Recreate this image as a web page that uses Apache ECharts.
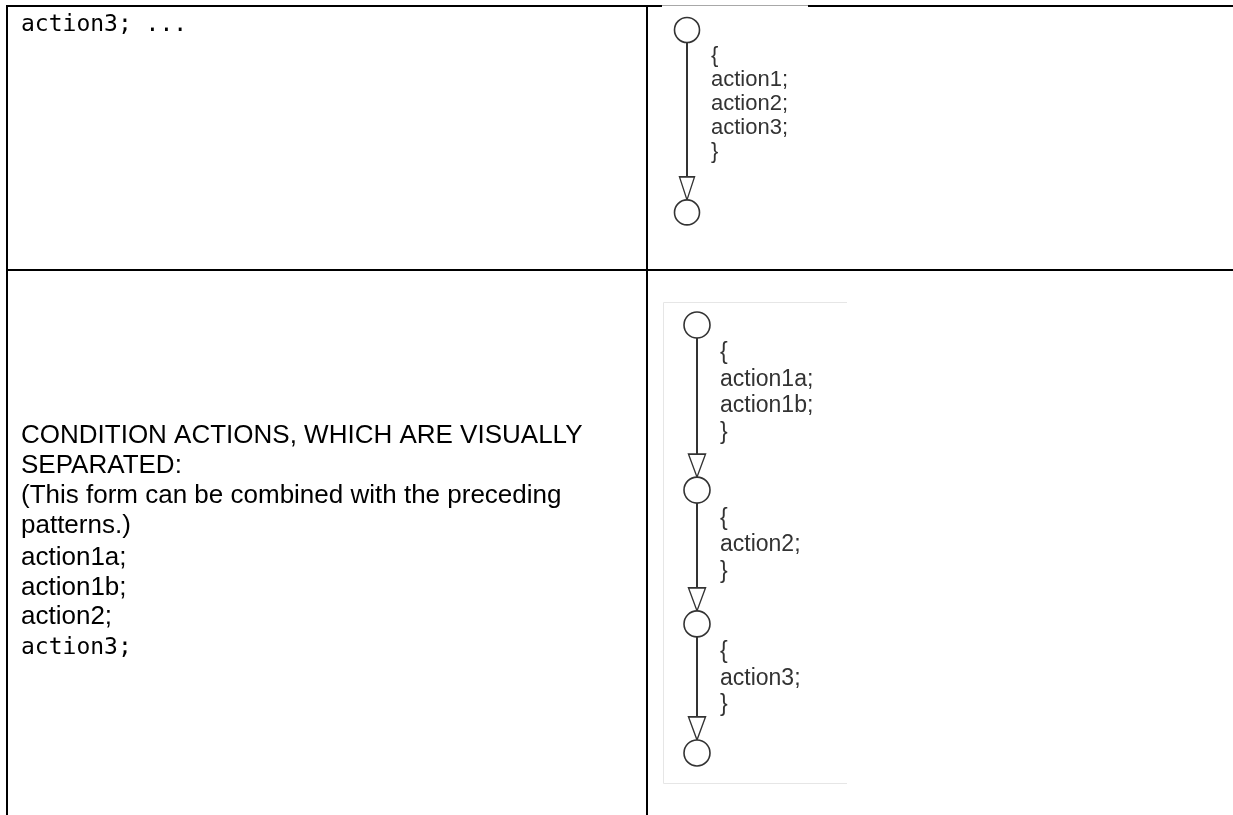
<!DOCTYPE html>
<html><head><meta charset="utf-8">
<script src="https://cdn.jsdelivr.net/npm/echarts@6/dist/echarts.min.js"></script>
<style>html,body{margin:0;padding:0;background:#fff}#c{width:1233px;height:815px}</style>
</head><body><div id="c"></div>
<script>
// ---- content ----
const topLeftLines = ['action3; ...'];
const bottomLeftLines = [
  'CONDITION ACTIONS, WHICH ARE VISUALLY',
  'SEPARATED:',
  '(This form can be combined with the preceding',
  'patterns.)',
  'action1a;',
  'action1b;',
  'action2;',
  'action3;'
];
const bottomLeftMono = [false, false, false, false, false, false, false, true];

// state positions (in text-row units along each diagram's vertical axis)
const diagram1States = [0, 7.6];
const diagram1Blocks = [['{', 'action1;', 'action2;', 'action3;', '}']];
const diagram2States = [0, 6.23, 11.28, 16.15];
const diagram2Blocks = [
  ['{', 'action1a;', 'action1b;', '}'],
  ['{', 'action2;', '}'],
  ['{', 'action3;', '}']
];

// ---- layout helpers ----
const SANS = '"Liberation Sans", Arial, sans-serif';
const MONO = '"DejaVu Sans Mono", "Liberation Mono", monospace';

function diagramSeries(gi, states, blocks, cfg) {
  const r = cfg.radius / cfg.unit, ah = cfg.arrowH / cfg.unit;
  const stateData = states.map(s => [0, s]);
  const lineData = [], arrowData = [], textData = [];
  blocks.forEach((block, i) => {
    const a = states[i], b = states[i + 1];
    const tip = b - r, top = tip - ah;
    lineData.push({ coords: [[0, a], [0, top]] });
    arrowData.push([0, (tip + top) / 2]);
    block.forEach((t, k) => textData.push({ value: [1, a + cfg.textOffset + k], name: t }));
  });
  const common = { xAxisIndex: gi, yAxisIndex: gi, silent: true, animation: false };
  return [
    Object.assign({ type: 'lines', coordinateSystem: 'cartesian2d', data: lineData,
      lineStyle: { color: '#333', width: 2, opacity: 1 }, z: 1 }, common),
    Object.assign({ type: 'scatter', data: arrowData,
      symbol: 'path://M0,0L10,0L5,15Z', symbolSize: [cfg.arrowW, cfg.arrowH],
      itemStyle: { color: '#fff', borderColor: '#333', borderWidth: 1.5, opacity: 1 }, z: 3 }, common),
    Object.assign({ type: 'scatter', data: stateData, symbol: 'circle', symbolSize: cfg.radius * 2,
      itemStyle: { color: '#fff', borderColor: '#333', borderWidth: 1.6, opacity: 1 }, z: 3 }, common),
    Object.assign({ type: 'scatter', data: textData, symbolSize: 0,
      itemStyle: { opacity: 1 },
      label: { show: true, position: 'right', distance: 0, formatter: p => p.name, opacity: 1,
        color: '#333', fontSize: cfg.fontSize, fontFamily: SANS }, z: 4 }, common)
  ];
}

const cfg1 = { unit: 24, radius: 12.5, arrowW: 15, arrowH: 23, textOffset: 1.1, fontSize: 22 };
const cfg2 = { unit: 26.5, radius: 13, arrowW: 17, arrowH: 23, textOffset: 1.06, fontSize: 23 };

const chart = echarts.init(document.getElementById('c'), null, { renderer: 'canvas' });

const graphics = [];
function hline(x1, x2, y, w, c) { graphics.push({ type: 'line', shape: { x1, y1: y, x2, y2: y }, style: { stroke: c, lineWidth: w }, silent: true }); }
function vline(x, y1, y2, w, c) { graphics.push({ type: 'line', shape: { x1: x, y1, x2: x, y2 }, style: { stroke: c, lineWidth: w }, silent: true }); }
// table frame
vline(7, 5, 815, 2, '#000');
vline(647, 5, 815, 2, '#000');
hline(6, 662, 6, 2, '#000');
hline(662, 808, 5.5, 1, '#a8a8a8');
hline(808, 1233, 6, 2, '#000');
hline(6, 1233, 270, 2, '#000');
// faint frame of second diagram picture (left, top, bottom edges)
graphics.push({ type: 'polyline', shape: { points: [[847, 302.5], [663.5, 302.5], [663.5, 783.5], [847, 783.5]] },
  style: { fill: 'none', stroke: '#e6e6e6', lineWidth: 1 }, silent: true });

// left column text
topLeftLines.forEach((t, i) => graphics.push({ type: 'text', x: 21, y: 25 + i * 30,
  style: { text: t, fontSize: 23, fontFamily: MONO, fill: '#000', align: 'left', verticalAlign: 'middle' }, silent: true }));
bottomLeftLines.forEach((t, i) => {
  const mono = bottomLeftMono[i];
  const baseline = i < 4 ? 445 + 30 * i : 567 + 29.5 * (i - 4);
  graphics.push({ type: 'text', x: 21, y: baseline - (mono ? 7 : 9),
    style: { text: t, fontSize: mono ? 23 : 26, fontFamily: mono ? MONO : SANS, fill: '#000',
      align: 'left', verticalAlign: 'middle' }, silent: true });
});

const axisHidden = { show: false };
chart.setOption({
  backgroundColor: '#fff',
  animation: false,
  grid: [
    { left: 687, top: 30, width: 24, height: cfg1.unit * 8 },
    { left: 697, top: 325, width: 23, height: cfg2.unit * 17 }
  ],
  xAxis: [
    { type: 'value', gridIndex: 0, min: 0, max: 1, ...axisHidden },
    { type: 'value', gridIndex: 1, min: 0, max: 1, ...axisHidden }
  ],
  yAxis: [
    { type: 'value', gridIndex: 0, min: 0, max: 8, inverse: true, ...axisHidden },
    { type: 'value', gridIndex: 1, min: 0, max: 17, inverse: true, ...axisHidden }
  ],
  graphic: graphics,
  series: [
    ...diagramSeries(0, diagram1States, diagram1Blocks, cfg1),
    ...diagramSeries(1, diagram2States, diagram2Blocks, cfg2)
  ]
});
</script>
</body></html>
